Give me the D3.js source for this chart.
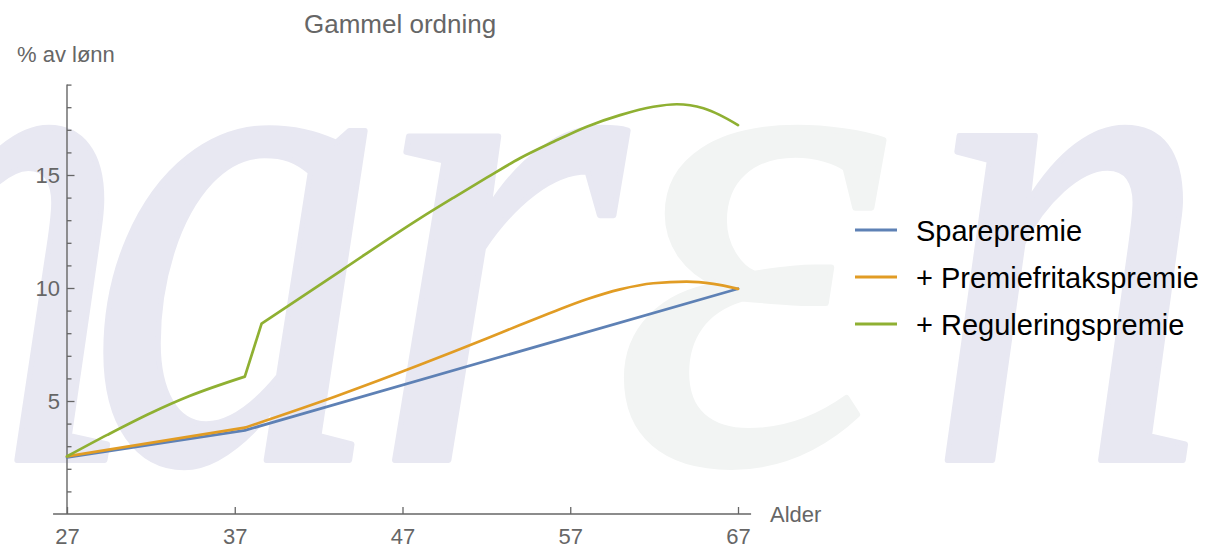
<!DOCTYPE html>
<html>
<head>
<meta charset="utf-8">
<script src="https://cdn.jsdelivr.net/npm/d3@7"></script>
<style>
  html, body { margin: 0; padding: 0; background: #fff; }
  svg { display: block; }
</style>
</head>
<body>
<svg id="chart" width="1206" height="546"></svg>
<script>
// ---------------- data ----------------
const title = "Gammel ordning";
const yLabel = "% av lønn";
const xLabel = "Alder";
const seriesNames = ["Sparepremie", "+ Premiefritakspremie", "+ Reguleringspremie"];
const seriesColors = ["#5E81B5", "#E19C24", "#8FB032"];

const xTicks = [27, 37, 47, 57, 67];
const yMajorTicks = [5, 10, 15];
const yMinorTicks = [1, 2, 3, 4, 6, 7, 8, 9, 11, 12, 13, 14, 16, 17, 18, 19];

// ages where the curves have a sharp corner
const kinkAges = [37.6, 38.6];

// Sparepremie
const spareAge   = [27, 37.6, 67];
const spareValue = [2.5, 3.7, 9.97];

// + Premiefritakspremie
const fritakAge   = [27, 37.6, 43, 48.04, 50.03, 52.02, 54, 56, 57.98, 59.97, 61.95, 63.94, 65.53, 67];
const fritakValue = [2.55, 3.82, 5.2, 6.6, 7.18, 7.77, 8.36, 8.95, 9.5, 9.94, 10.21, 10.28, 10.18, 9.96];

// + Reguleringspremie
const regAge   = [27, 29.4, 32, 34.3, 37.6, 38.6, 43.3, 48.04, 50.03, 52.02, 54, 56, 57.98, 59.97, 61.95, 63.35, 64.94, 65.93, 67];
const regValue = [2.55, 3.5, 4.47, 5.22, 6.08, 8.42, 10.75, 13.08, 13.99, 14.88, 15.74, 16.47, 17.14, 17.65, 18.02, 18.13, 17.95, 17.65, 17.21];

// watermark letters
const wmLetters = ["m", "a", "r", "\u03b5", "n"];
const wmColors  = ["#e8e8f2", "#e8e8f2", "#e8e8f2", "#f2f4f3", "#e8e8f2"];
const wmX       = [-300, 88, 368, 612, 927];
const wmScaleX  = [0.85, 0.85, 0.94, 0.98, 0.8];

// ---------------- drawing ----------------
const svg = d3.select("#chart");
const x = d3.scaleLinear().domain([27, 67]).range([67, 738]);
const y = d3.scaleLinear().domain([0, 19]).range([514, 84.6]);
const axisColor = "#666666";
const labelFont = "'Liberation Sans', Arial, sans-serif";

// watermark
const wm = svg.append("g");
wmLetters.forEach((ch, i) => {
  wm.append("text")
    .attr("transform", `translate(${wmX[i]},460) scale(${wmScaleX[i]},1)`)
    .attr("font-family", "'Liberation Serif', 'Times New Roman', serif")
    .attr("font-style", "italic")
    .attr("font-size", 705)
    .attr("fill", wmColors[i])
    .attr("stroke", wmColors[i])
    .attr("stroke-width", 6)
    .attr("stroke-linejoin", "round")
    .text(ch);
});

// axes
const gx = svg.append("g").attr("transform", `translate(0,${y(0)})`)
  .call(d3.axisBottom(x).tickValues(xTicks).tickSize(-7).tickSizeOuter(0).tickPadding(14));
gx.select(".domain").remove();
gx.selectAll(".tick line").attr("stroke", axisColor).attr("stroke-width", 1.3);
gx.selectAll(".tick text").attr("fill", axisColor).attr("font-size", 22).attr("font-family", labelFont);
gx.append("line").attr("x1", x(26.17)).attr("x2", x(67.78)).attr("y1", 0).attr("y2", 0)
  .attr("stroke", axisColor).attr("stroke-width", 1.4);

const gy = svg.append("g").attr("transform", `translate(${x(27)},0)`)
  .call(d3.axisLeft(y).tickValues(yMajorTicks).tickSize(-7.5).tickSizeOuter(0).tickPadding(7));
gy.select(".domain").remove();
gy.selectAll(".tick line").attr("stroke", axisColor).attr("stroke-width", 1.3);
gy.selectAll(".tick text").attr("fill", axisColor).attr("font-size", 22).attr("font-family", labelFont);
const gyMinor = svg.append("g").attr("transform", `translate(${x(27)},0)`)
  .call(d3.axisLeft(y).tickValues(yMinorTicks).tickSize(-4.5).tickSizeOuter(0).tickFormat(""));
gyMinor.select(".domain").remove();
gyMinor.selectAll(".tick line").attr("stroke", axisColor).attr("stroke-width", 1.3);
gy.append("line").attr("x1", 0).attr("x2", 0).attr("y1", y(0)).attr("y2", y(19))
  .attr("stroke", axisColor).attr("stroke-width", 1.4);

// labels
svg.append("text").attr("x", 304).attr("y", 33).attr("font-size", 26)
  .attr("font-family", labelFont).attr("fill", axisColor).text(title);
svg.append("text").attr("x", 17).attr("y", 62).attr("font-size", 22)
  .attr("font-family", labelFont).attr("fill", axisColor).text(yLabel);
svg.append("text").attr("x", 770).attr("y", 522).attr("font-size", 22)
  .attr("font-family", labelFont).attr("fill", axisColor).text(xLabel);

// lines: split each series at the kink ages, smooth each piece
function pieces(ages, vals) {
  const out = [];
  let cur = [];
  ages.forEach((a, i) => {
    cur.push([a, vals[i]]);
    if (kinkAges.includes(a) && i > 0 && i < ages.length - 1) {
      out.push(cur);
      cur = [[a, vals[i]]];
    }
  });
  if (cur.length > 1) out.push(cur);
  return out;
}
const series = [
  pieces(spareAge, spareValue),
  pieces(fritakAge, fritakValue),
  pieces(regAge, regValue)
];
const line = d3.line().x(d => x(d[0])).y(d => y(d[1])).curve(d3.curveMonotoneX);
series.forEach((segs, i) => {
  const d = segs.map(s => line(s)).join("");
  svg.append("path").attr("d", d)
    .attr("fill", "none").attr("stroke", seriesColors[i])
    .attr("stroke-width", 2.7).attr("stroke-linejoin", "round").attr("stroke-linecap", "round");
});

// legend
const legendY = [230, 277, 324];
const lg = svg.append("g");
seriesNames.forEach((name, i) => {
  lg.append("line").attr("x1", 855).attr("x2", 897).attr("y1", legendY[i]).attr("y2", legendY[i])
    .attr("stroke", seriesColors[i]).attr("stroke-width", 3);
  lg.append("text").attr("x", 916).attr("y", legendY[i] + 10.5).attr("font-size", 29)
    .attr("font-family", labelFont).attr("fill", "#000").text(name);
});
</script>
</body>
</html>
